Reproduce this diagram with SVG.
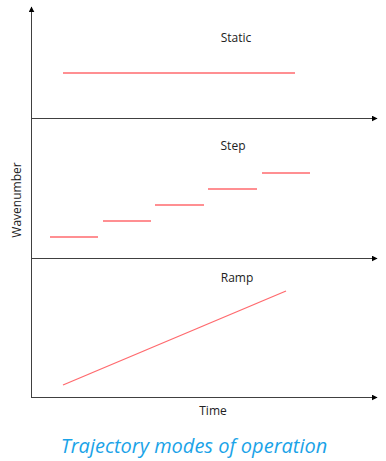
<svg xmlns="http://www.w3.org/2000/svg" width="386" height="461" viewBox="0 0 386 461">
<style>
.ax{stroke:#404040;stroke-width:1;fill:none}
.tr{stroke:#ff6a6e;stroke-width:1.3;fill:none}
.lb{font-family:"Open Sans","Liberation Sans",sans-serif;font-size:12px;fill:#222;text-anchor:middle}
.cap{font-family:"Open Sans","Liberation Sans",sans-serif;font-size:20px;font-style:italic;fill:#1aa3e8;text-anchor:middle}
</style>
<defs>
<marker id="ah" viewBox="0 0 10 10" refX="9" refY="5" markerWidth="6" markerHeight="6" orient="auto" markerUnits="userSpaceOnUse">
<path d="M0,0L10,5L0,10z" fill="#000"/>
</marker>
</defs>
<rect width="386" height="461" fill="#fff"/>
<g id="axes">
<line class="ax" x1="31.5" y1="398" x2="31.5" y2="7" marker-end="url(#ah)"/>
<line class="ax" x1="31" y1="118.5" x2="377" y2="118.5" marker-end="url(#ah)"/>
<line class="ax" x1="31" y1="258.5" x2="377" y2="258.5" marker-end="url(#ah)"/>
<line class="ax" x1="31" y1="397.5" x2="377" y2="397.5" marker-end="url(#ah)"/>
</g>
<g id="static">
<text class="lb" x="236" y="42">Static</text>
<line class="tr" x1="63" y1="73" x2="295" y2="73"/>
</g>
<g id="step">
<text class="lb" x="233" y="150">Step</text>
<line class="tr" x1="50" y1="237" x2="98" y2="237"/>
<line class="tr" x1="103" y1="221" x2="151" y2="221"/>
<line class="tr" x1="155" y1="205" x2="204" y2="205"/>
<line class="tr" x1="208" y1="189" x2="257" y2="189"/>
<line class="tr" x1="262" y1="173" x2="310" y2="173"/>
</g>
<g id="ramp">
<text class="lb" x="237" y="282">Ramp</text>
<line class="tr" x1="63" y1="385" x2="286" y2="291"/>
</g>
<g id="labels">
<text class="lb" x="213" y="415">Time</text>
<text class="lb" transform="translate(21,200) rotate(-90)">Wavenumber</text>
<text class="cap" x="194" y="453">Trajectory modes of operation</text>
</g>
</svg>
